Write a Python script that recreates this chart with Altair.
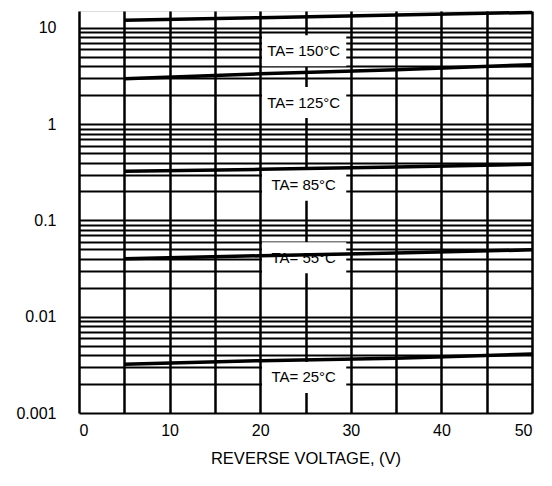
import altair as alt
import pandas as pd

# Reverse voltage (V) sample points along each curve
voltage = [5, 20, 35, 50]
# Reverse current per ambient temperature
i_150 = [12.0, 12.8, 13.6, 14.5]
i_125 = [2.97, 3.34, 3.69, 4.15]
i_85 = [0.324, 0.34, 0.36, 0.383]
i_55 = [0.040, 0.043, 0.046, 0.0495]
i_25 = [0.0032, 0.0035, 0.0037, 0.0041]
series = ["150", "125", "85", "55", "25"]

label_text = ["TA= 150°C", "TA= 125°C", "TA= 85°C", "TA= 55°C", "TA= 25°C"]
label_x = [24.8, 24.8, 24.8, 24.8, 24.8]
label_y = [5.8, 1.68, 0.232, 0.041, 0.00234]

x_grid = [0, 5, 10, 15, 20, 25, 30, 35, 40, 45, 50]
y_grid = [0.001, 0.002, 0.003, 0.004, 0.005, 0.006, 0.007, 0.008, 0.009,
          0.01, 0.02, 0.03, 0.04, 0.05, 0.06, 0.07, 0.08, 0.09,
          0.1, 0.2, 0.3, 0.4, 0.5, 0.6, 0.7, 0.8, 0.9,
          1, 2, 3, 4, 5, 6, 7, 8, 9, 10]
y_labels = [0.001, 0.01, 0.1, 1, 10]

rows = []
for name, vals in zip(series, [i_150, i_125, i_85, i_55, i_25]):
    for v, c in zip(voltage, vals):
        rows.append({"series": name, "x": v, "y": c})
lines_df = pd.DataFrame(rows)
labels_df = pd.DataFrame({"text": label_text, "x": label_x, "y": label_y})

FONT = "Liberation Sans"

x_scale = alt.Scale(domain=[0, 50], nice=False)
y_scale = alt.Scale(type="log", domain=[0.001, 15], nice=False)

x_axis = alt.Axis(values=x_grid, labelExpr="datum.value % 10 == 0 ? datum.label : ''",
                  title="REVERSE VOLTAGE, (V)", ticks=False, domain=False, grid=True,
                  labelPadding=9, titlePadding=12, labelFontSize=16, titleFontSize=16.5,
                  titleFontWeight="normal", labelFont=FONT, titleFont=FONT,
                  labelColor="black", titleColor="black", gridColor="black",
                  gridWidth=2.5, gridOpacity=1, labelOverlap=False)
y_axis = alt.Axis(values=y_grid, format="~g",
                  labelExpr="indexof([0.001,0.01,0.1,1,10], datum.value) >= 0 ? datum.label : ''",
                  title=None, ticks=False, domain=False, grid=True,
                  labelPadding=23, labelFontSize=16, labelFont=FONT, labelColor="black",
                  gridColor="black", gridWidth=2, gridOpacity=1, labelOverlap=False)

X = lambda f: alt.X(f, type="quantitative", scale=x_scale, axis=x_axis)
Y = lambda f: alt.Y(f, type="quantitative", scale=y_scale, axis=y_axis)

boxes = alt.Chart(labels_df).transform_calculate(
    x_lo="datum.x - 4.6", x_hi="datum.x + 4.7",
    y_lo="datum.y / 1.45", y_hi="datum.y * 1.45"
).mark_rect(color="white").encode(
    x=X("x_lo"), x2="x_hi:Q", y=Y("y_lo"), y2="y_hi:Q"
)

texts = alt.Chart(labels_df).mark_text(
    font=FONT, fontSize=15, color="black", align="center", baseline="middle"
).encode(x=X("x"), y=Y("y"), text="text:N")

lines = alt.Chart(lines_df).mark_line(color="black", strokeWidth=3.5).encode(
    x=X("x"), y=Y("y"), detail="series:N"
)

chart = alt.layer(boxes, texts, lines).properties(
    width=453, height=402,
    padding={"left": 7, "top": -3, "right": 5, "bottom": 5}
).configure_view(stroke="black", strokeWidth=3.5).configure(background="white")

chart.save("out.html", embed_options={"renderer": "svg", "actions": False})
